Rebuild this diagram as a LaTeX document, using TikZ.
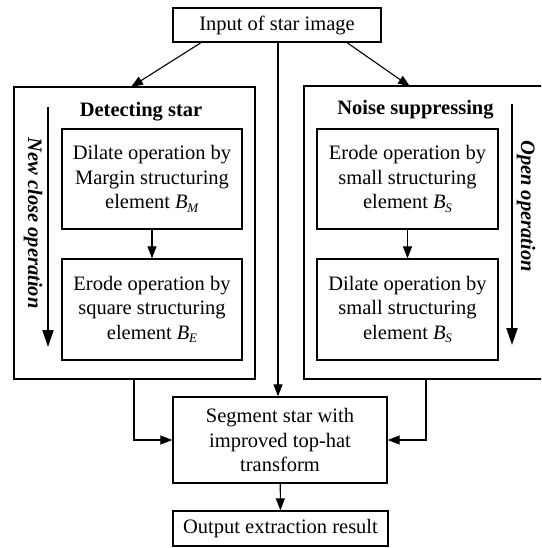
\documentclass[tikz,border=0pt]{standalone}
\usepackage{fontspec}
\setmainfont{Liberation Serif}
\usetikzlibrary{arrows.meta}
\newcommand\Bsb[1]{\textit{B}\kern-0.3pt\raisebox{-0.35ex}{\fontsize{13}{13}\selectfont\textit{#1}}}
\begin{document}
\begin{tikzpicture}[x=1pt,y=-1pt,
  box/.style={draw, line width=1.3pt, rectangle, align=center, inner sep=0pt,
    font=\fontsize{20.5}{24.5}\selectfont},
  frame/.style={draw, line width=1.3pt, rectangle, inner sep=0pt},
  conn/.style={line width=1.1pt, -{Triangle[length=12pt,width=9pt]}},
  bigarr/.style={line width=2pt, -{Triangle[length=17pt,width=11pt]}},
  ttl/.style={font=\fontsize{20.5}{24}\selectfont\bfseries, inner sep=0pt},
  side/.style={font=\fontsize{20.5}{24}\selectfont\bfseries\itshape, inner sep=0pt, rotate=-90}]
\useasboundingbox (0,0) rectangle (541,548);
\clip (0,0) rectangle (541,548);
\fill[white] (0,0) rectangle (541,548);

\node[box, minimum width=208pt, minimum height=34pt] (in) at (277,25) {Input of star image};

\node[frame, minimum width=241pt, minimum height=292pt] (L) at (134.5,233) {};
\node[frame, minimum width=245pt, minimum height=293pt] (R) at (426.5,232.5) {};

\node[ttl] (lt) at (141,112) {Detecting star};
\node[ttl] (rt) at (415.5,110) {Noise suppressing};

\node[box, minimum width=180pt, minimum height=100pt] (l1) at (152,179)
  {Dilate operation by\\Margin structuring\\element \Bsb{M}};
\node[box, minimum width=180pt, minimum height=101pt] (l2) at (152,309.5)
  {Erode operation by\\square structuring\\element \Bsb{E}};
\node[box, minimum width=181pt, minimum height=100pt] (r1) at (407.5,179)
  {Erode operation by\\small structuring\\element \Bsb{S}};
\node[box, minimum width=181pt, minimum height=101pt] (r2) at (407.5,309.5)
  {Dilate operation by\\small structuring\\element \Bsb{S}};

\node[box, minimum width=214pt, minimum height=86pt] (seg) at (280,440)
  {Segment star with\\improved top-hat\\transform};
\node[box, minimum width=215pt, minimum height=35pt] (out) at (280.5,528.5)
  {Output extraction result};

\coordinate (la0) at (48,107);
\coordinate (la1) at (48,347);
\coordinate (ra0) at (512,104);
\coordinate (ra1) at (512,345);
\draw[bigarr] (la0) -- (la1);
\draw[bigarr] (ra0) -- (ra1);
\node[side] (lside) at (33,223) {New close operation};
\node[side] (rside) at (526,206) {Open operation};

\draw[conn] (in.south -| 201,0) -- (131,87);
\draw[conn] (in.south -| 347,0) -- (410,86.5);
\draw[conn] (in.south -| 278,0) -- (seg.north -| 278,0);
\draw[conn] (l1) -- (l2);
\draw[conn] (r1) -- (r2);
\draw[conn] (L.south -| 134,0) |- (seg.west);
\draw[conn] (R.south -| 426,0) |- (seg.east);
\draw[conn] (seg) -- (out);
\end{tikzpicture}
\end{document}
